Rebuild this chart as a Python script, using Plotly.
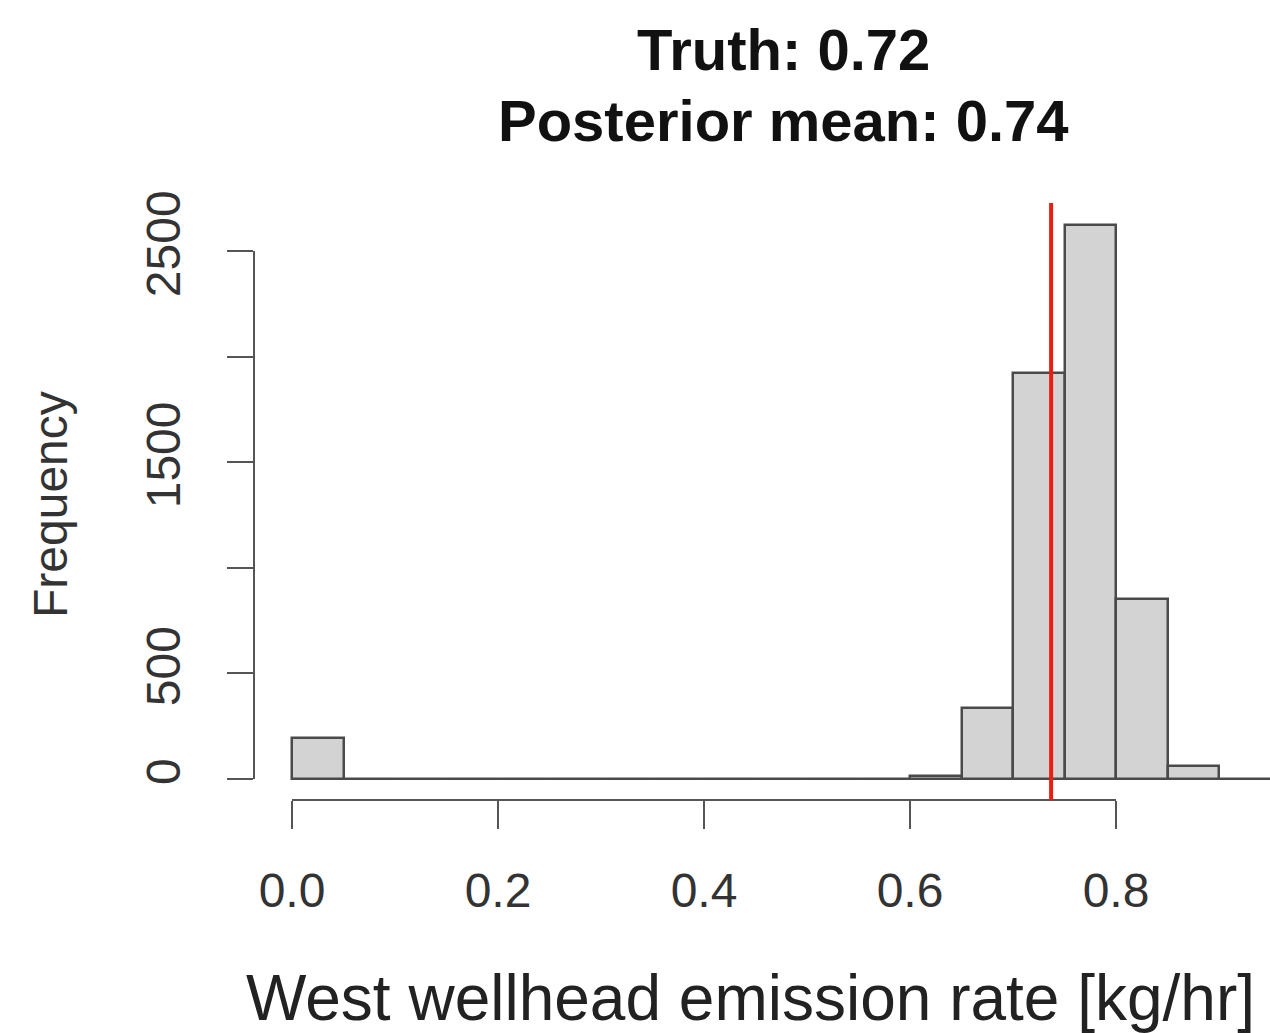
import plotly.graph_objects as go

# Histogram bins (left edges, width 0.05) and counts
bin_starts = [0.00, 0.05, 0.10, 0.15, 0.20, 0.25, 0.30, 0.35, 0.40, 0.45,
              0.50, 0.55, 0.60, 0.65, 0.70, 0.75, 0.80, 0.85, 0.90]
counts = [194, 0, 0, 0, 0, 0, 0, 0, 0, 0,
          0, 0, 12, 336, 1922, 2623, 852, 62, 0]
bin_width = 0.05
posterior_line = 0.737
x_ticks = [0.0, 0.2, 0.4, 0.6, 0.8]
x_tick_labels = ["0.0", "0.2", "0.4", "0.6", "0.8"]
y_ticks = [0, 500, 1000, 1500, 2000, 2500]
y_tick_labels = ["0", "500", "", "1500", "", "2500"]
title_lines = ["Truth: 0.72", "Posterior mean: 0.74"]
x_title = "West wellhead emission rate [kg/hr]"
y_title = "Frequency"

W, H = 1270, 1033
L, R, T, B = 254, 0, 203, 233
pw = W - L - R
ph = H - T - B

centers = [s + bin_width / 2 for s in bin_starts]

fig = go.Figure()
fig.add_trace(go.Bar(
    x=centers, y=counts, width=bin_width,
    marker=dict(color="#d3d3d3", line=dict(color="#4a4a4a", width=2.5)),
    showlegend=False, hoverinfo="skip",
))

FONT = "Liberation Sans, Arial, Helvetica, sans-serif"
xr = [-0.0369, 0.9495]
yr = [-100, 2727]

fig.update_layout(
    width=W, height=H,
    margin=dict(l=L, r=R, t=T, b=B, pad=0),
    plot_bgcolor="white", paper_bgcolor="white",
    font=dict(family=FONT, color="#333333"),
    bargap=0,
    xaxis=dict(range=xr, showgrid=False, zeroline=False, showline=False,
               tickmode="array", tickvals=x_ticks, ticktext=x_tick_labels,
               ticks="outside", ticklen=28, tickwidth=2, tickcolor="#555555",
               tickfont=dict(size=48, color="#333333"),
               ticklabelstandoff=20),
    yaxis=dict(range=yr, showgrid=False, zeroline=False, showline=False,
               tickmode="array", tickvals=y_ticks, ticktext=y_tick_labels,
               ticks="outside", ticklen=26, tickwidth=2, tickcolor="#555555",
               tickangle=-90,
               tickfont=dict(size=48, color="#333333"),
               ticklabelstandoff=28),
)

shapes = [
    # baseline under all bins
    dict(type="line", xref="x", yref="y", x0=bin_starts[0], x1=bin_starts[-1] + bin_width,
         y0=0, y1=0, line=dict(color="#555555", width=2), layer="below"),
    # y axis line (0 to 2500)
    dict(type="line", xref="paper", yref="y", x0=0, x1=0, y0=y_ticks[0], y1=y_ticks[-1],
         line=dict(color="#555555", width=2)),
    # x axis line (0.0 to 0.8)
    dict(type="line", xref="x", yref="paper", x0=x_ticks[0], x1=x_ticks[-1], y0=0, y1=0,
         line=dict(color="#555555", width=2)),
    # red posterior line
    dict(type="line", xref="x", yref="paper", x0=posterior_line, x1=posterior_line, y0=0, y1=1,
         line=dict(color="#ee1c0e", width=4)),
]
fig.update_layout(shapes=shapes)

def px_x(p):
    return (p - L) / pw

def px_y(p):
    return (H - B - p) / ph

annotations = [
    dict(text="<b>" + title_lines[0] + "</b>", xref="paper", yref="paper",
         x=px_x(783), y=px_y(50), showarrow=False, xanchor="center", yanchor="middle",
         font=dict(size=58, color="#111111", family=FONT)),
    dict(text="<b>" + title_lines[1] + "</b>", xref="paper", yref="paper",
         x=px_x(783), y=px_y(120), showarrow=False, xanchor="center", yanchor="middle",
         font=dict(size=58, color="#111111", family=FONT)),
    dict(text=y_title, xref="paper", yref="paper", textangle=-90,
         x=px_x(50), y=px_y(505), showarrow=False, xanchor="center", yanchor="middle",
         font=dict(size=48, color="#333333", family=FONT)),
    dict(text=x_title, xref="paper", yref="paper",
         x=px_x(1257), y=px_y(998), showarrow=False, xanchor="right", yanchor="middle",
         font=dict(size=64, color="#222222", family=FONT)),
]
fig.update_layout(annotations=annotations)

fig.write_html("out.html")
